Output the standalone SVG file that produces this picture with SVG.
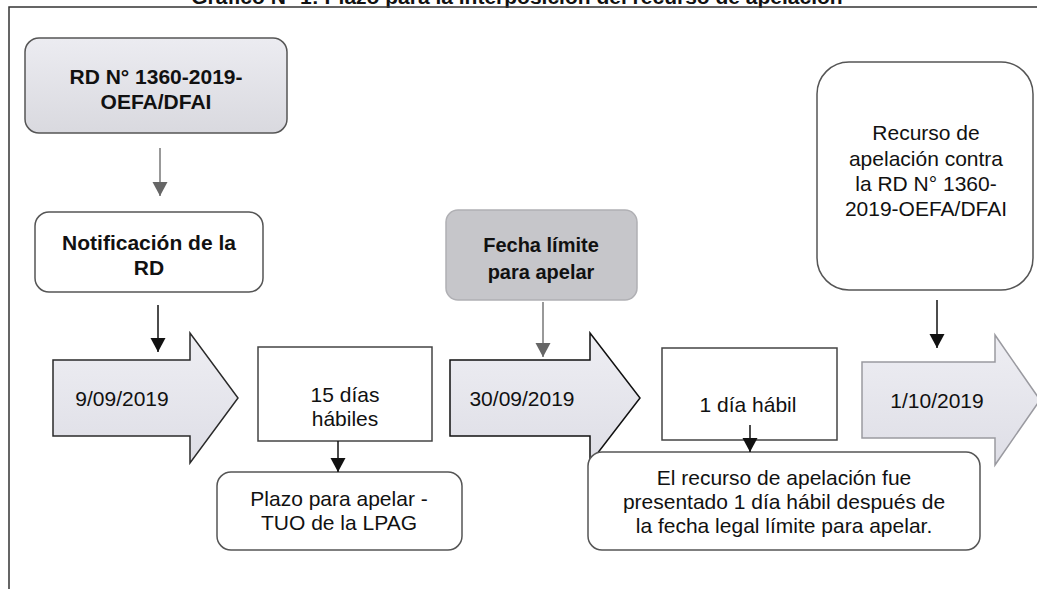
<svg xmlns="http://www.w3.org/2000/svg" width="1037" height="589" viewBox="0 0 1037 589">
<style>
text{font-family:"Liberation Sans",Arial,sans-serif;font-size:21px;fill:#111;text-anchor:middle}
.b{font-weight:bold}
.rbox{fill:#fff;stroke:#555;stroke-width:1.5}
.sbox{fill:#fff;stroke:#444;stroke-width:1.5}
.big{fill:url(#gArrow);stroke:#2a2a2a;stroke-width:1.5;stroke-linejoin:miter}
.cb{stroke:#111;stroke-width:1.5;fill:none;marker-end:url(#ab)}
.cg{stroke:#777;stroke-width:1.5;fill:none;marker-end:url(#ag)}
</style>
<defs>
<linearGradient id="gLight" x1="0" y1="0" x2="0" y2="1">
<stop offset="0" stop-color="#ececf1"/><stop offset="1" stop-color="#d9d9df"/>
</linearGradient>
<linearGradient id="gArrow" x1="0" y1="0" x2="0" y2="1">
<stop offset="0" stop-color="#eeeef3"/><stop offset="1" stop-color="#dedee6"/>
</linearGradient>
<marker id="ab" markerUnits="userSpaceOnUse" markerWidth="16" markerHeight="16" refX="14" refY="8" orient="auto">
<path d="M0,0.5 L14,8 L0,15.5 z" fill="#111"/>
</marker>
<marker id="ag" markerUnits="userSpaceOnUse" markerWidth="16" markerHeight="16" refX="14" refY="8" orient="auto">
<path d="M0,0.5 L14,8 L0,15.5 z" fill="#666"/>
</marker>
</defs>
<rect width="1037" height="589" fill="#fff"/>
<text class="b" x="517" y="4">Gráfico N° 1: Plazo para la interposición del recurso de apelación</text>
<path d="M9,589 V7 H1037" fill="none" stroke="#333" stroke-width="1.5"/>

<g id="node-rd">
<rect x="25" y="38" width="262" height="95" rx="14" fill="url(#gLight)" stroke="#555" stroke-width="1.5"/>
<text class="b" x="156" y="84">RD N° 1360-2019-</text>
<text class="b" x="156" y="109">OEFA/DFAI</text>
</g>
<g id="node-notificacion">
<rect class="rbox" x="35" y="212" width="228" height="80" rx="14"/>
<text class="b" x="149" y="250">Notificación de la</text>
<text class="b" x="149" y="275">RD</text>
</g>
<g id="node-d1">
<polygon class="big" points="53,360 190,360 190,333 238,398 190,463 190,436 53,436"/>
<text x="122" y="406">9/09/2019</text>
</g>
<g id="node-15dias">
<rect class="sbox" x="258" y="347" width="174" height="94"/>
<text x="345" y="402">15 días</text>
<text x="345" y="426">hábiles</text>
</g>
<g id="node-plazo">
<rect class="rbox" x="217" y="472" width="245" height="78" rx="14"/>
<text x="339" y="506">Plazo para apelar -</text>
<text x="339" y="530">TUO de la LPAG</text>
</g>
<g id="node-fecha">
<rect x="446" y="210" width="191" height="90" rx="12" fill="#c6c6ca" stroke="#b0b0b4" stroke-width="1.5"/>
<text class="b" x="541" y="252" style="font-size:20px">Fecha límite</text>
<text class="b" x="541" y="279" style="font-size:20px">para apelar</text>
</g>
<g id="node-d2">
<polygon class="big" points="450,360 590,360 590,333 640,398 590,463 590,436 450,436" style="stroke:#111"/>
<text x="522" y="406">30/09/2019</text>
</g>
<g id="node-1dia">
<rect class="sbox" x="662" y="348" width="175" height="92"/>
<text x="748" y="412">1 día hábil</text>
</g>
<g id="node-elrecurso">
<rect class="rbox" x="588" y="452" width="392" height="98" rx="14"/>
<text x="784" y="485">El recurso de apelación fue</text>
<text x="784" y="509">presentado 1 día hábil después de</text>
<text x="784" y="533">la fecha legal límite para apelar.</text>
</g>
<g id="node-recurso">
<rect class="rbox" x="817" y="62" width="216" height="228" rx="32"/>
<text x="926" y="140">Recurso de</text>
<text x="926" y="166">apelación contra</text>
<text x="926" y="191">la RD N° 1360-</text>
<text x="926" y="216">2019-OEFA/DFAI</text>
</g>
<g id="node-d3">
<polygon points="862,362 995,362 995,335 1040,400 995,465 995,438 862,438" fill="url(#gArrow)" stroke="#9a9aa0" stroke-width="1.5"/>
<text x="937" y="408">1/10/2019</text>
</g>

<g id="connectors">
<line class="cg" x1="160" y1="148" x2="160" y2="196"/>
<line class="cb" x1="158" y1="305" x2="158" y2="352"/>
<line class="cb" x1="338" y1="441" x2="338" y2="472"/>
<line class="cg" x1="543" y1="302" x2="543" y2="357"/>
<line class="cb" x1="750" y1="425" x2="750" y2="452"/>
<line class="cb" x1="937" y1="300" x2="937" y2="348"/>
</g>
</svg>
